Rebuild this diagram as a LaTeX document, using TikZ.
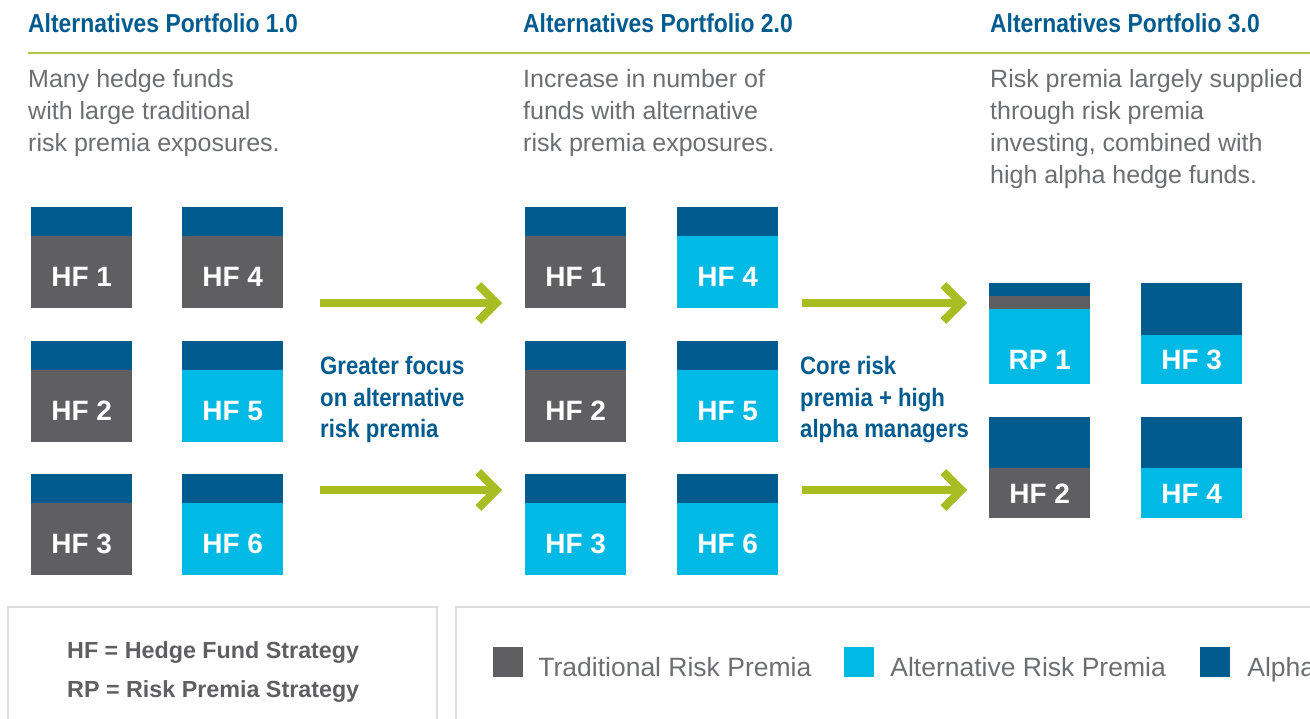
\documentclass[tikz,border=0pt]{standalone}
\usepackage{fontspec}
\setmainfont{Liberation Sans}
\newfontfamily\condfont[FakeStretch=0.88]{Liberation Sans}
\usepackage{tikz}
\usetikzlibrary{positioning,calc,arrows.meta}

\definecolor{alphablue}{HTML}{005B8F}
\definecolor{altcyan}{HTML}{00B9E4}
\definecolor{tradgrey}{HTML}{5F5F61}
\definecolor{arrowgreen}{HTML}{A8BD22}
\definecolor{rulegreen}{HTML}{B3C447}
\definecolor{bodygrey}{HTML}{6D6E70}
\definecolor{framegrey}{HTML}{DDDDDD}

\tikzset{
  fundcell/.style={rectangle, inner sep=0pt, minimum width=101pt, minimum height=101pt, anchor=north west},
  fundlabel/.style={text=white, font=\bfseries\fontsize{28}{28}\selectfont, anchor=base, inner sep=0pt},
  heading/.style={text=alphablue, font=\condfont\bfseries\fontsize{26}{26}\selectfont, anchor=base west, inner sep=0pt},
  blurb/.style={text=bodygrey, font=\fontsize{25}{32}\selectfont, align=left, anchor=base west, inner sep=0pt},
  shiftnote/.style={text=alphablue, font=\condfont\bfseries\fontsize{25.2}{31.5}\selectfont, align=left, anchor=base west, inner sep=0pt},
  growth/.style={draw=arrowgreen, line width=8pt, -{Straight Barb[length=18pt, width=36pt]}},
  legendframe/.style={draw=framegrey, line width=1.5pt},
  keysq/.style={rectangle, inner sep=0pt, minimum size=30pt},
  keytext/.style={text=bodygrey, font=\fontsize{26.5}{26.5}\selectfont, anchor=base west, inner sep=0pt},
  abbrev/.style={text=tradgrey, font=\bfseries\fontsize{23.3}{23.3}\selectfont, anchor=base west, inner sep=0pt}
}

% name, x, y, colour, strip height, label, label offset
\newcommand{\fundbox}[7]{%
  \node[fundcell, fill=#4] (#1) at (#2,#3) {};
  \fill[alphablue] (#1.north west) rectangle ([yshift=-#5pt]#1.north east);
  \node[fundlabel] (#1-lbl) at ([yshift=#7pt]#1.south) {#6};
}

\begin{document}
\begin{tikzpicture}[x=1pt, y=-1pt]
    \useasboundingbox (0,0) rectangle (1310,719);
    \clip (0,0) rectangle (1310,719);

    % Headings
    \node[heading] (h1) at (28,33) {Alternatives Portfolio 1.0};
    \node[heading] (h2) at (523,33) {Alternatives Portfolio 2.0};
    \node[heading] (h3) at (990,33) {Alternatives Portfolio 3.0};
    \draw[rulegreen, line width=1.5pt] (28,53) -- (1310,53);

    % base of a multi-line node = last line
    \node[blurb] (b1) at (28,152) {Many hedge funds\\with large traditional\\risk premia exposures.};
    \node[blurb] (b2) at (523,152) {Increase in number of\\funds with alternative\\risk premia exposures.};
    \node[blurb] (b3) at (990,184) {Risk premia largely supplied\\through risk premia\\investing, combined with\\high alpha hedge funds.};

    % Portfolio 1.0
    \fundbox{p1hf1}{31}{207}{tradgrey}{29}{HF 1}{22}
    \fundbox{p1hf4}{182}{207}{tradgrey}{29}{HF 4}{22}
    \fundbox{p1hf2}{31}{341}{tradgrey}{29}{HF 2}{22}
    \fundbox{p1hf5}{182}{341}{altcyan}{29}{HF 5}{22}
    \fundbox{p1hf3}{31}{474}{tradgrey}{29}{HF 3}{22}
    \fundbox{p1hf6}{182}{474}{altcyan}{29}{HF 6}{22}

    % Portfolio 2.0
    \fundbox{p2hf1}{525}{207}{tradgrey}{29}{HF 1}{22}
    \fundbox{p2hf4}{677}{207}{altcyan}{29}{HF 4}{22}
    \fundbox{p2hf2}{525}{341}{tradgrey}{29}{HF 2}{22}
    \fundbox{p2hf5}{677}{341}{altcyan}{29}{HF 5}{22}
    \fundbox{p2hf3}{525}{474}{altcyan}{29}{HF 3}{22}
    \fundbox{p2hf6}{677}{474}{altcyan}{29}{HF 6}{22}

    % Portfolio 3.0
    \fundbox{p3rp1}{989}{283}{altcyan}{13}{}{15}
    \fill[tradgrey] ([yshift=-13pt]p3rp1.north west) rectangle ([yshift=-26pt]p3rp1.north east);
    \node[fundlabel] (p3rp1-txt) at ([yshift=15pt]p3rp1.south) {RP 1};
    \fundbox{p3hf3}{1141}{283}{altcyan}{52}{HF 3}{15}
    \fundbox{p3hf2}{989}{417}{tradgrey}{51}{HF 2}{15}
    \fundbox{p3hf4}{1141}{417}{altcyan}{51}{HF 4}{15}

    % Shifts
    \coordinate (a1s) at (320,303);
    \coordinate (a1e) at (502,303);
    \coordinate (a2s) at (320,490);
    \coordinate (a2e) at (502,490);
    \coordinate (a3s) at (802,303);
    \coordinate (a3e) at (967,303);
    \coordinate (a4s) at (802,490);
    \coordinate (a4e) at (967,490);
    \draw[growth] (a1s) -- (a1e);
    \draw[growth] (a2s) -- (a2e);
    \draw[growth] (a3s) -- (a3e);
    \draw[growth] (a4s) -- (a4e);
    \node[shiftnote] (s1) at (320,438) {Greater focus\\on alternative\\risk premia};
    \node[shiftnote] (s2) at (800,438) {Core risk\\premia + high\\alpha managers};

    % Legend
    \draw[legendframe] (8,607) rectangle (437,740);
    \draw[legendframe] (456,607) rectangle (1340,740);
    \node[abbrev] (l1) at (67,658) {HF = Hedge Fund Strategy};
    \node[abbrev] (l2) at (67,697) {RP = Risk Premia Strategy};

    \node[keysq, fill=tradgrey] (k1) at (508,662) {};
    \node[keytext] (k1t) at ([xshift=15pt, yshift=-14pt]k1.east) {Traditional Risk Premia};
    \node[keysq, fill=altcyan] (k2) at (859,662) {};
    \node[keytext] (k2t) at ([xshift=16pt, yshift=-14pt]k2.east) {Alternative Risk Premia};
    \node[keysq, fill=alphablue] (k3) at (1215,662) {};
    \node[keytext] (k3t) at ([xshift=17pt, yshift=-14pt]k3.east) {Alpha};
\end{tikzpicture}
\end{document}
